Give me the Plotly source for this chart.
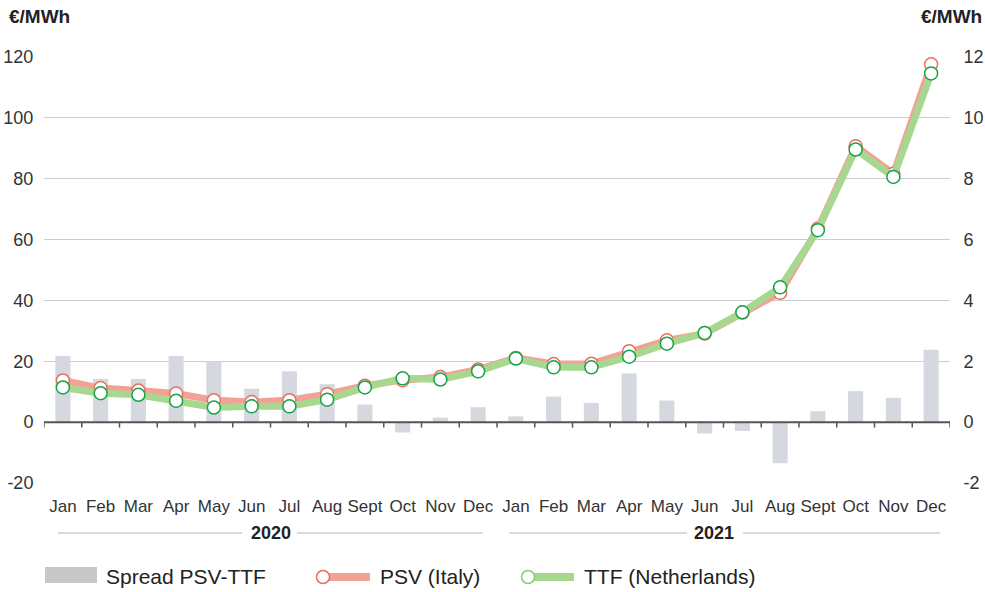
import plotly.graph_objects as go

# ---- data ----
months = ["Jan", "Feb", "Mar", "Apr", "May", "Jun", "Jul", "Aug", "Sept", "Oct", "Nov", "Dec"] * 2
years = ["2020", "2021"]
spread = [2.17, 1.42, 1.42, 2.17, 2.00, 1.10, 1.67, 1.25, 0.58, -0.34, 0.15, 0.49,
          0.19, 0.84, 0.63, 1.60, 0.71, -0.37, -0.29, -1.35, 0.36, 1.02, 0.80, 2.38]
psv = [13.7, 11.2, 10.4, 9.4, 7.2, 6.6, 7.2, 9.2, 12.0, 13.8, 14.8, 17.3,
       21.1, 19.1, 19.2, 23.3, 26.9, 29.1, 36.0, 42.5, 63.6, 90.7, 81.6, 117.6]
ttf = [11.4, 9.5, 9.0, 7.0, 4.8, 5.2, 5.2, 7.4, 11.4, 14.4, 14.0, 16.7,
       20.9, 18.0, 18.0, 21.5, 25.8, 29.3, 36.1, 44.3, 63.1, 89.6, 80.6, 114.6]
left_ticks = [-20, 0, 20, 40, 60, 80, 100, 120]
left_labels = ["-20", "0", "20", "40", "60", "80", "100", "120"]
right_ticks = [-2, 0, 2, 4, 6, 8, 10, 12]
right_labels = ["-2", "0", "2", "4", "6", "8", "10", "12"]

x = list(range(len(months)))

W, H = 985, 592
L, R, T, B = 44, 950, 57, 483


def px(p):
    return (p - L) / (R - L)


def py(p):
    return (B - p) / (B - T)


FONT = "Liberation Sans, Arial, sans-serif"
TXT = "#333333"

fig = go.Figure()

fig.add_trace(go.Bar(
    x=x, y=spread, yaxis="y", name="Spread PSV-TTF",
    marker=dict(color="#d5d8df", line=dict(width=0)), width=0.4,
))
fig.add_trace(go.Scatter(
    x=x, y=psv, yaxis="y2", name="PSV (Italy)", mode="lines+markers",
    line=dict(color="#f2a196", width=7),
    marker=dict(size=13, color="white", line=dict(color="#e8705f", width=1.5)),
))
fig.add_trace(go.Scatter(
    x=x, y=ttf, yaxis="y2", name="TTF (Netherlands)", mode="lines+markers",
    line=dict(color="#a8d890", width=7),
    marker=dict(size=13, color="white", line=dict(color="#16a34a", width=1.5)),
))

shapes = []
# zero line and boundary ticks
shapes.append(dict(type="line", xref="paper", yref="y2", x0=0, x1=1, y0=0, y1=0,
                   line=dict(color="#555555", width=2), layer="above"))
for k in range(len(months) + 1):
    shapes.append(dict(type="line", xref="x", yref="y2", x0=k - 0.5, x1=k - 0.5,
                       y0=0, y1=-1.8, line=dict(color="#555555", width=1.5), layer="above"))

annotations = []
# year group labels with rules
year_spans = [((58, 242), (297, 483), 271), ((509, 687), (743, 940), 714)]
for yr, (a, b, c) in zip(years, year_spans):
    for seg in (a, b):
        shapes.append(dict(type="line", xref="paper", yref="paper", x0=px(seg[0]), x1=px(seg[1]),
                           y0=py(533), y1=py(533), line=dict(color="#b5b5b5", width=1)))
    annotations.append(dict(text="<b>%s</b>" % yr, xref="paper", yref="paper", x=px(c), y=py(533),
                            showarrow=False, xanchor="center", yanchor="middle",
                            font=dict(family=FONT, size=18, color="#222222")))

# axis unit titles
annotations.append(dict(text="<b>€/MWh</b>", xref="paper", yref="paper", x=px(7), y=py(16),
                        showarrow=False, xanchor="left", yanchor="middle",
                        font=dict(family=FONT, size=19, color="#222222")))
annotations.append(dict(text="<b>€/MWh</b>", xref="paper", yref="paper", x=px(984), y=py(16),
                        showarrow=False, xanchor="right", yanchor="middle",
                        font=dict(family=FONT, size=19, color="#222222")))

# custom legend
LY = 576
shapes.append(dict(type="rect", xref="paper", yref="paper", x0=px(45), x1=px(97),
                   y0=py(567), y1=py(583), fillcolor="#c8c8c8", line=dict(width=0)))
annotations.append(dict(text="Spread PSV-TTF", xref="paper", yref="paper", x=px(104), y=py(LY),
                        showarrow=False, xanchor="left", yanchor="middle",
                        font=dict(family=FONT, size=21, color="#222222")))
legend_lines = [(323, 370, "#f2a196", "#e8705f", 378, "PSV (Italy)"),
                (528, 574, "#a8d890", "#86cc6c", 582, "TTF (Netherlands)")]
for x0, x1, lc, mc, tx, label in legend_lines:
    shapes.append(dict(type="line", xref="paper", yref="paper", x0=px(x0), x1=px(x1),
                       y0=py(LY + 1), y1=py(LY + 1), line=dict(color=lc, width=8)))
    r = 6.5
    shapes.append(dict(type="circle", xref="paper", yref="paper", x0=px(x0 - r), x1=px(x0 + r),
                       y0=py(LY + 1 + r), y1=py(LY + 1 - r), fillcolor="white",
                       line=dict(color=mc, width=1.5)))
    annotations.append(dict(text=label, xref="paper", yref="paper", x=px(tx), y=py(LY),
                            showarrow=False, xanchor="left", yanchor="middle",
                            font=dict(family=FONT, size=21, color="#222222")))

fig.update_layout(
    template="none",
    width=W, height=H,
    margin=dict(l=L, r=W - R, t=T, b=H - B, pad=0, autoexpand=False),
    paper_bgcolor="white", plot_bgcolor="white",
    showlegend=False,
    bargap=0.6,
    xaxis=dict(range=[-0.5, len(months) - 0.5], tickvals=x, ticktext=months,
               automargin=False, showgrid=False, zeroline=False, showline=False,
               ticks="outside", ticklen=8, tickcolor="rgba(0,0,0,0)",
               tickfont=dict(family=FONT, size=17, color=TXT)),
    yaxis=dict(side="right", range=[-2, 12], tickvals=right_ticks, ticktext=right_labels,
               automargin=False,
               showgrid=True, gridcolor="#c9cdd5", gridwidth=1, zeroline=False, showline=False,
               ticks="outside", ticklen=9, tickcolor="rgba(0,0,0,0)",
               tickfont=dict(family=FONT, size=18, color=TXT)),
    yaxis2=dict(side="left", overlaying="y", range=[-20, 120], tickvals=left_ticks,
                ticktext=left_labels,
                automargin=False, showgrid=False, zeroline=False, showline=False,
                ticks="outside", ticklen=6, tickcolor="rgba(0,0,0,0)",
                tickfont=dict(family=FONT, size=18, color=TXT)),
    shapes=shapes,
    annotations=annotations,
)

fig.write_html("out.html", config={"displayModeBar": False},
               post_script="document.body.style.margin='0';document.body.style.padding='0';")
